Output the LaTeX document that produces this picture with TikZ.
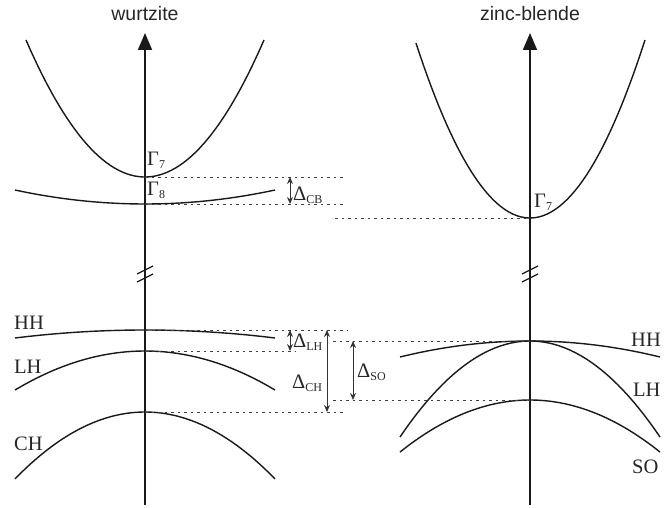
\documentclass[tikz,border=0pt]{standalone}
\usepackage{fontspec}
\setmainfont{Liberation Serif}
\newfontfamily\titlefont{Liberation Sans}
\usetikzlibrary{arrows.meta}
\newcommand\bandsym[2]{{\fontsize{20.5}{20.5}\selectfont #1}{\fontsize{12}{12}\selectfont\raisebox{-3pt}{#2}}}
\newcommand\bandname[1]{{\fontsize{20.5}{20.5}\selectfont #1}}
\begin{document}
\begin{tikzpicture}[x=1pt,y=-1pt,
  band/.style={line width=1.4pt, black!90},
  axisline/.style={line width=1.6pt, black!90, -{Triangle[length=17pt,width=14pt]}},
  breakmark/.style={line width=1.3pt, black!90},
  guide/.style={line width=1pt, black!75, dash pattern=on 2.5pt off 4pt},
  gap/.style={line width=1pt, black!80, {Stealth[length=7pt,width=6pt]}-{Stealth[length=7pt,width=6pt]}},
  lbl/.style={anchor=base west, inner sep=0pt, text=black!85},
  title/.style={anchor=base, inner sep=0pt, font=\titlefont\fontsize{19.5}{19.5}\selectfont, text=black!85}]
\useasboundingbox (0,0) rectangle (672,508);

% titles
\node[title] (tw) at (145,21) {wurtzite};
\node[title] (tz) at (530,21) {zinc-blende};

% axes
\coordinate (wb) at (145,505); \coordinate (wt) at (145,33);
\coordinate (zb) at (530,505); \coordinate (zt) at (530,33);
\draw[axisline] (wb) -- (wt);
\draw[axisline] (zb) -- (zt);

% axis breaks
\draw[breakmark] (137,274) -- (153,266);
\draw[breakmark] (137,282) -- (153,274);
\draw[breakmark] (522,274) -- (538,266);
\draw[breakmark] (522,282) -- (538,274);

% wurtzite bands
\draw[band] plot[domain=26:264, samples=60] (\x,{177-0.9675*((\x-145)/10)^2});
\draw[band] plot[domain=15:275, samples=40] (\x,{204-0.0828*((\x-145)/10)^2});
\draw[band] plot[domain=15:275, samples=40] (\x,{330+0.0473*((\x-145)/10)^2});
\draw[band] plot[domain=15:275, samples=50] (\x,{351+0.231*((\x-145)/10)^2});
\draw[band] plot[domain=15:275, samples=50] (\x,{412+0.396*((\x-145)/10)^2});

% zinc-blende bands
\draw[band] plot[domain=416:645, samples=60] (\x,{218-1.346*((\x-530)/10)^2});
\draw[band] plot[domain=400:660, samples=40] (\x,{341+0.0947*((\x-530)/10)^2});
\draw[band] plot[domain=400:660, samples=50] (\x,{341+0.568*((\x-530)/10)^2});
\draw[band] plot[domain=400:660, samples=50] (\x,{400+0.308*((\x-530)/10)^2});

% guide coordinates
\coordinate (g7a) at (145,177); \coordinate (g7b) at (345,177);
\coordinate (g8a) at (145,204); \coordinate (g8b) at (345,204);
\coordinate (gza) at (335,218); \coordinate (gzb) at (530,218);
\coordinate (ghha) at (145,330); \coordinate (ghhb) at (347,330);
\coordinate (glha) at (145,351); \coordinate (glhb) at (295,351);
\coordinate (gchh) at (145,412); \coordinate (gchb) at (345,412);
\coordinate (gzha) at (333,341); \coordinate (gzhb) at (530,341);
\coordinate (gsoa) at (333,400); \coordinate (gsob) at (530,400);
\draw[guide] (g7a) -- (g7b);
\draw[guide] (g8a) -- (g8b);
\draw[guide] (gza) -- (gzb);
\draw[guide] (ghha) -- (ghhb);
\draw[guide] (glha) -- (glhb);
\draw[guide] (gchh) -- (gchb);
\draw[guide] (gzha) -- (gzhb);
\draw[guide] (gsoa) -- (gsob);

% gap arrows
\coordinate (cbt) at (290,177); \coordinate (cbb) at (290,204);
\coordinate (lht) at (290,330); \coordinate (lhb) at (290,351);
\coordinate (cht) at (327,330); \coordinate (chb) at (327,412);
\coordinate (sot) at (353,341); \coordinate (sob) at (353,400);
\draw[gap] (cbt) -- (cbb);
\draw[gap] (lht) -- (lhb);
\draw[gap] (cht) -- (chb);
\draw[gap] (sot) -- (sob);

% labels
\node[lbl] (G7w) at (147,165) {\bandsym{Γ}{7}};
\node[lbl] (G8w) at (147,195) {\bandsym{Γ}{8}};
\node[lbl] (G7z) at (534,207) {\bandsym{Γ}{7}};
\node[lbl] (dCB) at (293,200) {\bandsym{Δ}{CB}};
\node[lbl] (dLH) at (293,347) {\bandsym{Δ}{LH}};
\node[lbl] (dCH) at (292,388) {\bandsym{Δ}{CH}};
\node[lbl] (dSO) at (357,377) {\bandsym{Δ}{SO}};
\node[lbl] (HHw) at (14,329) {\bandname{HH}};
\node[lbl] (LHw) at (14,373) {\bandname{LH}};
\node[lbl] (CHw) at (14,450) {\bandname{CH}};
\node[lbl] (HHz) at (631,346) {\bandname{HH}};
\node[lbl] (LHz) at (633,396) {\bandname{LH}};
\node[lbl] (SOz) at (632,473) {\bandname{SO}};
\end{tikzpicture}
\end{document}
